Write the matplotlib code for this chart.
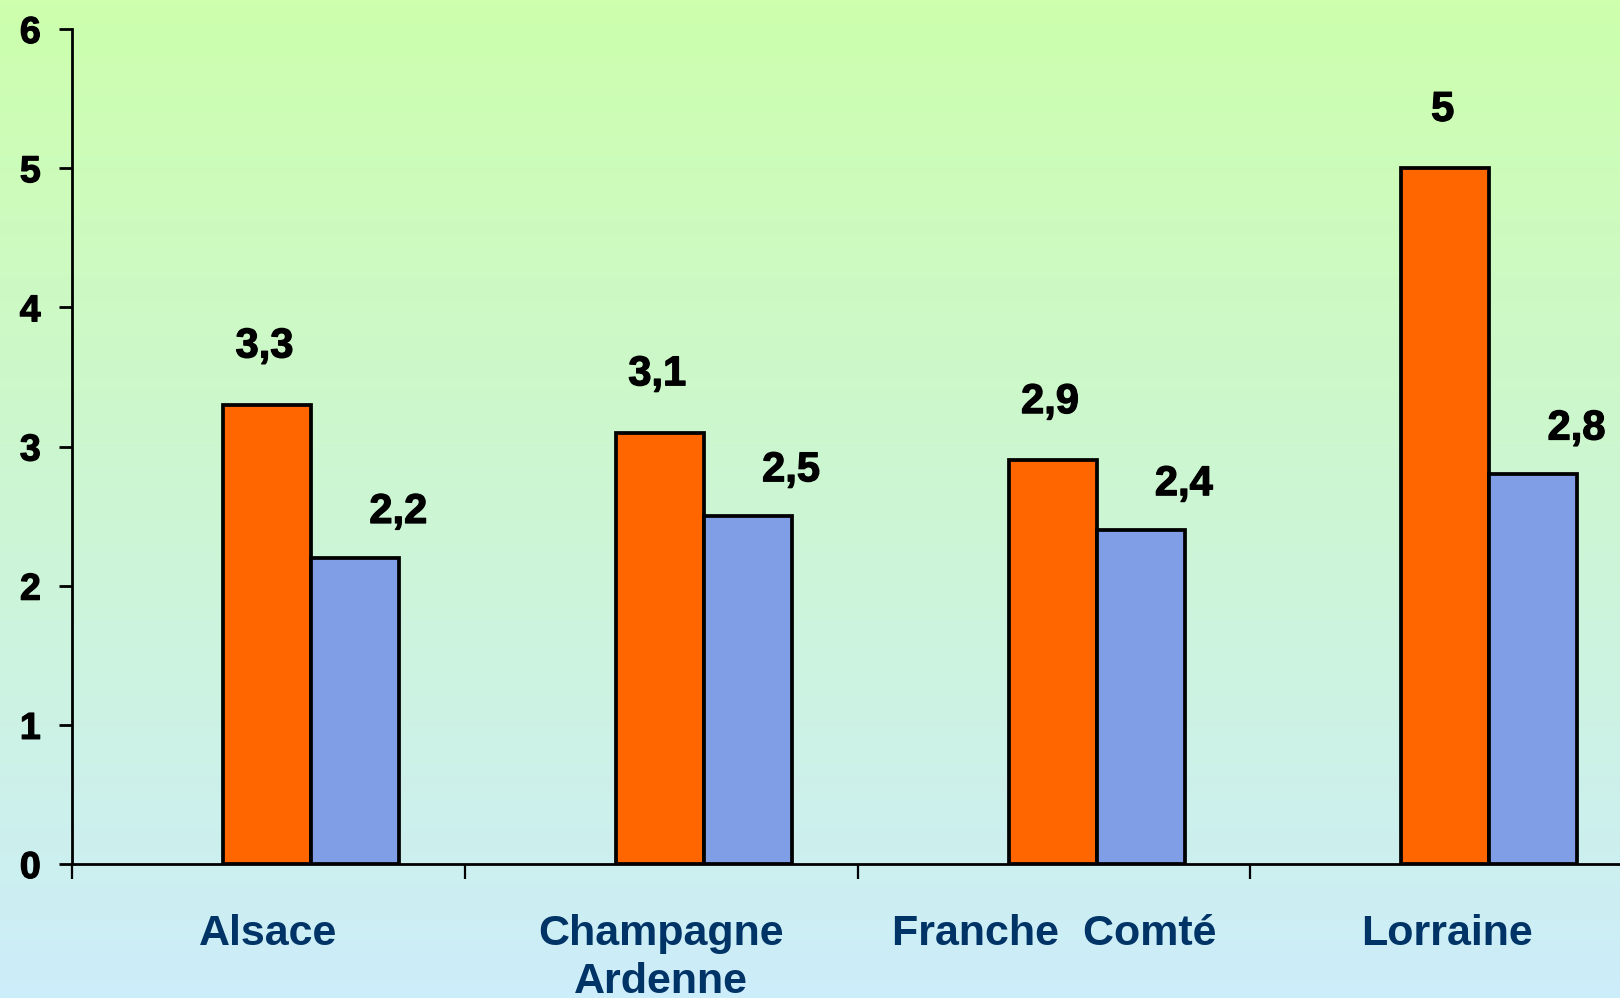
import numpy as np
import matplotlib.pyplot as plt
import matplotlib.patheffects as pe
from matplotlib.colors import LinearSegmentedColormap

plt.rcParams['font.family'] = ['Liberation Sans', 'DejaVu Sans']

# Données
regions = ['Alsace', 'Champagne\nArdenne', 'Franche  Comté', 'Lorraine']
serie_orange = [3.3, 3.1, 2.9, 5.0]
serie_bleue = [2.2, 2.5, 2.4, 2.8]
labels_orange = ['3,3', '3,1', '2,9', '5']
labels_bleue = ['2,2', '2,5', '2,4', '2,8']
yticks = [0, 1, 2, 3, 4, 5, 6]

fig = plt.figure(figsize=(16.2, 9.98), dpi=100)

# Fond dégradé vert -> bleu
bg = fig.add_axes([0, 0, 1, 1])
cmap = LinearSegmentedColormap.from_list('fond', ['#cdffad', '#ccedfa'])
grad = np.linspace(0, 1, 256).reshape(-1, 1)
bg.imshow(grad, aspect='auto', cmap=cmap, extent=[0, 1, 0, 1], origin='upper')
bg.axis('off')

ax = fig.add_axes([72 / 1620, 134 / 998, 1571 / 1620, 835 / 998])
ax.patch.set_alpha(0)

x = np.arange(len(regions))
w = 0.224
ax.bar(x + 0.385, serie_orange, width=w, align='edge', color='#ff6600',
       edgecolor='black', linewidth=2.7, zorder=3)
ax.bar(x + 0.385 + w, serie_bleue, width=w, align='edge', color='#7f9ee6',
       edgecolor='black', linewidth=2.7, zorder=3)

gras = [pe.withStroke(linewidth=0.9, foreground='black')]

# Étiquettes de valeurs
for i in range(len(regions)):
    ax.annotate(labels_orange[i], (x[i] + 0.385 + w / 2, serie_orange[i]),
                xytext=(-2, 42), textcoords='offset points', ha='center', va='center',
                fontsize=30, fontweight='bold', path_effects=gras)
    ax.annotate(labels_bleue[i], (x[i] + 0.385 + 1.5 * w, serie_bleue[i]),
                xytext=(31, 33), textcoords='offset points', ha='center', va='center',
                fontsize=30, fontweight='bold', path_effects=gras)

ax.set_xlim(0, 4)
ax.set_ylim(0, 6)
ax.set_yticks(yticks)
ax.set_yticklabels([str(v) for v in yticks], fontsize=27, fontweight='bold',
                   path_effects=gras)
ax.tick_params(axis='y', length=9.5, width=2, pad=13, direction='out')

ax.set_xticks(np.arange(0, 5))
ax.set_xticklabels([])
ax.tick_params(axis='x', which='major', length=11, width=1.6, direction='out')
ax.set_xticks(x + 0.5, minor=True)
ax.set_xticklabels(regions, minor=True, fontsize=31, fontweight='bold',
                   color='#003366', linespacing=1.25, va='top')
ax.tick_params(axis='x', which='minor', length=0, pad=36)

for s in ['top', 'right']:
    ax.spines[s].set_visible(False)
ax.spines['left'].set_linewidth(2)
ax.spines['bottom'].set_linewidth(2)

plt.savefig('out.png', dpi=100)
